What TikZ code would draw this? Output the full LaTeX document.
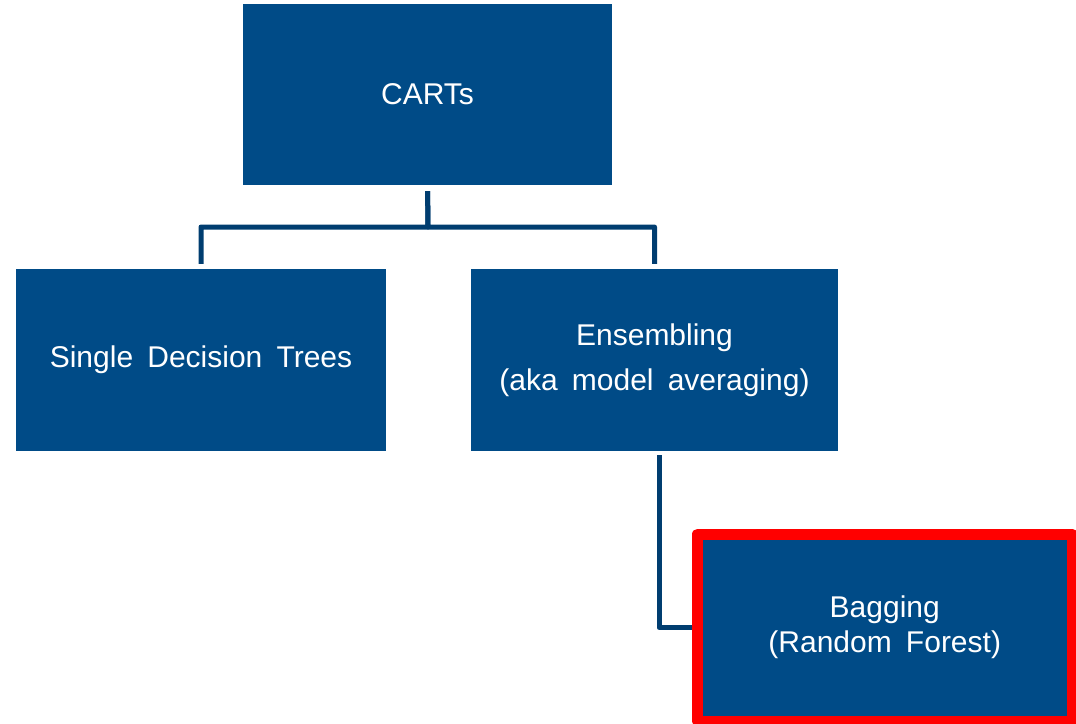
\documentclass[tikz,border=0pt]{standalone}
\usepackage{fontspec}
\setmainfont[WordSpace=1.7]{Liberation Sans}
\definecolor{boxblue}{RGB}{0,75,135}
\definecolor{linkblue}{RGB}{0,61,112}

\tikzset{
  box/.style={fill=boxblue, text=white, inner sep=0pt, align=center,
    font=\fontsize{30}{45}\selectfont},
  link/.style={draw=linkblue, line width=5pt, line join=round},
}

\begin{document}
\begin{tikzpicture}[x=1pt,y=-1pt]
  \useasboundingbox (0,0) rectangle (1076,723);
  % boxes
  \node[box, minimum width=369pt, minimum height=181pt] (carts) at (427.5,94.5) {CARTs};
  \node[box, minimum width=370pt, minimum height=182pt] (single) at (201,360) {Single Decision Trees};
  \node[box, minimum width=367pt, minimum height=182pt] (ens) at (654.5,360) {Ensembling\\(aka model averaging)};
  \node[box, draw=red, line width=11pt, line join=round, minimum width=374.5pt, minimum height=187pt,
    font=\fontsize{30}{35}\selectfont] (bag) at (884.75,627.5) {Bagging\\(Random Forest)};
  % connectors
  \coordinate (split) at (428,227);
  \draw[link, shorten <=6pt, shorten >=5pt] (carts.south) -- (split) -| (single.north);
  \draw[link, shorten <=6pt, shorten >=5pt] (carts.south) -- (split) -| (ens.north);
  \draw[link, shorten <=4pt] ([xshift=4.5pt]ens.south) |- (bag.west);
\end{tikzpicture}
\end{document}
